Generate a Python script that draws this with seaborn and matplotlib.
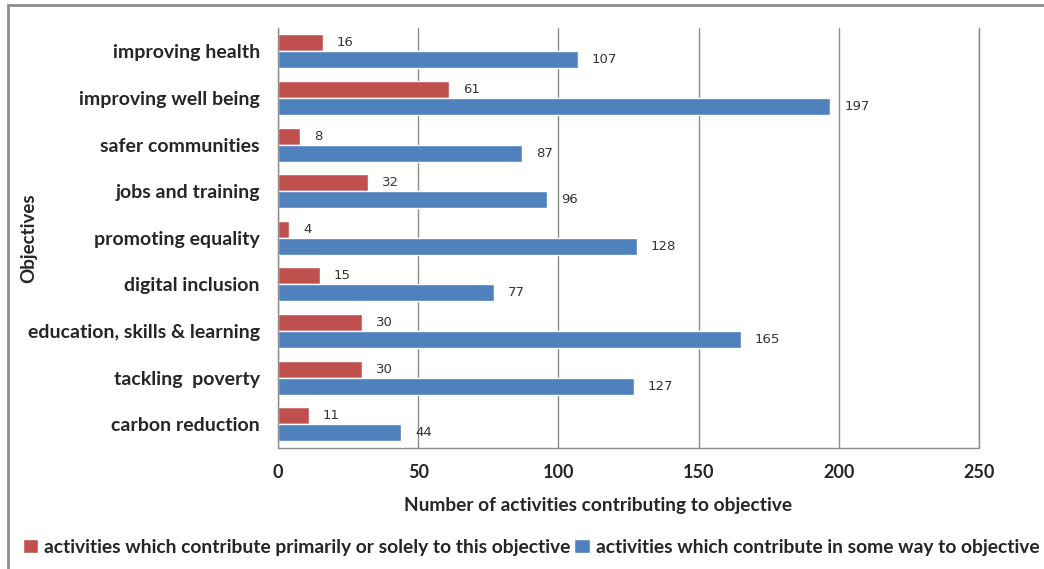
import matplotlib
matplotlib.use("Agg")
import matplotlib.pyplot as plt
import seaborn as sns
import pandas as pd
from matplotlib.patches import Rectangle

# Objectives and activity counts
objectives = [
    "improving health",
    "improving well being",
    "safer communities",
    "jobs and training",
    "promoting equality",
    "digital inclusion",
    "education, skills & learning",
    "tackling  poverty",
    "carbon reduction",
]
primary_counts = [16, 61, 8, 32, 4, 15, 30, 30, 11]
some_way_counts = [107, 197, 87, 96, 128, 77, 165, 127, 44]

series_names = [
    "activities which contribute primarily or solely to this objective",
    "activities which contribute in some way to objective",
]
x_ticks = [0, 50, 100, 150, 200, 250]

RED = "#C0504D"
BLUE = "#4F81BD"
GRID = "#8C8C8C"

df = pd.DataFrame({
    "objective": objectives * 2,
    "count": primary_counts + some_way_counts,
    "series": [series_names[0]] * len(objectives) + [series_names[1]] * len(objectives),
})

sns.set_theme(style="white")
plt.rcParams["font.family"] = ["Lato", "DejaVu Sans"]

fig = plt.figure(figsize=(10.44, 5.69), dpi=100)
ax = fig.add_axes([278 / 1044, 1 - 447.5 / 569, (979 - 278) / 1044, (447.5 - 28) / 569])

sns.barplot(
    data=df, y="objective", x="count", hue="series",
    hue_order=series_names, order=objectives, orient="h",
    palette=[RED, BLUE], width=0.73, saturation=1, ax=ax, legend=True,
)

for cont in ax.containers:
    ax.bar_label(cont, padding=10, fontsize=9.5, color="#333333",
                 family="DejaVu Sans")

ax.set_xlim(0, 250)
ax.set_ylim(len(objectives) - 0.5, -0.5)
ax.set_xticks(x_ticks)
ax.set_xticklabels([str(t) for t in x_ticks], fontsize=13, fontweight="bold")
ax.tick_params(axis="x", length=0, pad=12)
ax.tick_params(axis="y", length=0, pad=13, labelsize=14)
for lab in ax.get_yticklabels():
    lab.set_fontweight("bold")

ax.xaxis.grid(True, color=GRID, linewidth=1)
ax.set_axisbelow(True)
ax.spines["top"].set_visible(False)
for side in ("left", "bottom", "right"):
    ax.spines[side].set_color(GRID)
    ax.spines[side].set_linewidth(1)

ax.set_xlabel("Number of activities contributing to objective", fontsize=13.8,
              fontweight="bold")
ax.xaxis.set_label_coords(0.456, -0.118)
ax.set_ylabel("Objectives", fontsize=13.5, fontweight="bold")
ax.yaxis.set_label_coords(-0.343, 0.5)

handles, labels = ax.get_legend_handles_labels()
ax.get_legend().remove()
fig.legend(handles, labels, loc="center", bbox_to_anchor=(531 / 1044, 1 - 547 / 569),
           ncol=2, frameon=False, handlelength=0.8,
           handleheight=0.7, handletextpad=0.3, columnspacing=0.2,
           prop={"weight": "bold", "size": 13.9})

# chart-area border
fig.patches.append(Rectangle((8 / 1044, -0.05), 1.1, 1 - 5 / 569 + 0.05,
                             transform=fig.transFigure, fill=False,
                             edgecolor="#8C8C8C", linewidth=2))

fig.savefig("out.png", dpi=100)
